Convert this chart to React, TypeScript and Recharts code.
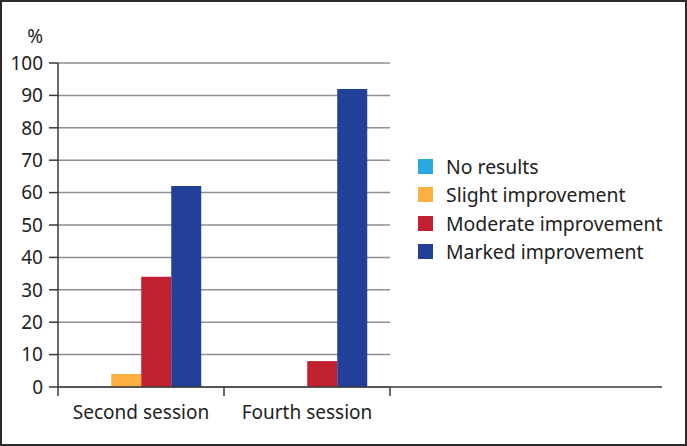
import React from 'react';
import { BarChart, Bar, XAxis, YAxis, CartesianGrid } from 'recharts';

const categories = ['Second session', 'Fourth session'];
const noResults = [0, 0];
const slightImprovement = [4, 0];
const moderateImprovement = [34, 8];
const markedImprovement = [62, 92];
const yTicks = [0, 10, 20, 30, 40, 50, 60, 70, 80, 90, 100];

const series = [
  { key: 'none', name: 'No results', color: '#29A9E1', values: noResults },
  { key: 'slight', name: 'Slight improvement', color: '#FBB040', values: slightImprovement },
  { key: 'moderate', name: 'Moderate improvement', color: '#C1202F', values: moderateImprovement },
  { key: 'marked', name: 'Marked improvement', color: '#22409A', values: markedImprovement },
];

const data = categories.map((c, i) => {
  const row: any = { category: c };
  series.forEach((s) => (row[s.key] = s.values[i]));
  return row;
});

const W = 687;
const H = 446;
const PLOT_LEFT = 58;
const PLOT_RIGHT = 390;
const PLOT_TOP = 63;
const PLOT_BOTTOM = 387;
const BAND = (PLOT_RIGHT - PLOT_LEFT) / categories.length;
const AXIS_EXT = 272;
const FONT = '"Noto Sans", sans-serif';
const FS = 19;
const LEGEND_FS = 19.4;
const AXIS_COLOR = '#3a3a3a';

const XTick = (props: any) => {
  const { x, payload, index } = props;
  const y = PLOT_BOTTOM;
  const left = x - BAND / 2;
  const right = x + BAND / 2;
  const isLast = index === categories.length - 1;
  return (
    <g>
      <line x1={left} y1={y} x2={left} y2={y + 9} stroke={AXIS_COLOR} strokeWidth={1.5} />
      {isLast && <line x1={right} y1={y} x2={right} y2={y + 9} stroke={AXIS_COLOR} strokeWidth={1.5} />}
      {isLast && <line x1={right} y1={y} x2={right + AXIS_EXT} y2={y} stroke={AXIS_COLOR} strokeWidth={1.5} />}
      <text x={x} y={y + 32} textAnchor="middle" fontSize={FS} fill="#222" fontFamily={FONT}>
        {payload.value}
      </text>
    </g>
  );
};

const Legend = () => (
  <div style={{ position: 'absolute', left: 418, top: 152, fontFamily: FONT, fontSize: LEGEND_FS, color: '#222' }}>
    {series.map((s) => (
      <div key={s.key} style={{ display: 'flex', alignItems: 'center', height: 28.5 }}>
        <div style={{ width: 15, height: 15, background: s.color, marginRight: 13 }} />
        <span>{s.name}</span>
      </div>
    ))}
  </div>
);

export default function App() {
  return (
    <div style={{ position: 'absolute', left: 0, top: 0, width: W, height: H, background: '#fff' }}>
      <BarChart
        width={W}
        height={H}
        data={data}
        margin={{ top: PLOT_TOP, right: W - PLOT_RIGHT, bottom: H - PLOT_BOTTOM - 30, left: 0 }}
        barCategoryGap="14%"
        barGap={0}
      >
        <CartesianGrid vertical={false} horizontal stroke="#8f8f8f" strokeWidth={1.5} />
        <XAxis
          dataKey="category"
          height={30}
          axisLine={{ stroke: AXIS_COLOR, strokeWidth: 1.5 }}
          tickLine={false}
          tick={<XTick />}
          interval={0}
        />
        <YAxis
          width={PLOT_LEFT}
          domain={[0, 100]}
          ticks={yTicks}
          interval={0}
          tickSize={9}
          tickMargin={6}
          axisLine={{ stroke: AXIS_COLOR, strokeWidth: 1.5 }}
          tickLine={{ stroke: AXIS_COLOR, strokeWidth: 1.5 }}
          tick={{ fontSize: FS, fill: '#222', fontFamily: FONT }}
          label={(p: any) => (
            <text x={43} y={43} textAnchor="end" fontSize={FS} fill="#222" fontFamily={FONT}>
              %
            </text>
          )}
        />
        {series.map((s) => (
          <Bar key={s.key} dataKey={s.key} name={s.name} fill={s.color} isAnimationActive={false} />
        ))}
      </BarChart>
      <Legend />
      <div
        style={{
          position: 'absolute',
          left: 0,
          top: 0,
          width: W,
          height: H,
          boxSizing: 'border-box',
          border: '2px solid #2b2b2b',
          pointerEvents: 'none',
        }}
      />
    </div>
  );
}
